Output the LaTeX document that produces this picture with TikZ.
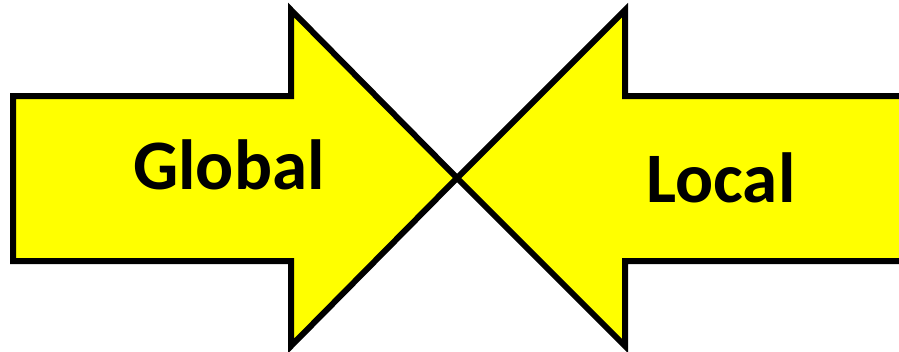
\documentclass[tikz,border=0pt]{standalone}
\usepackage{fontspec}
\setmainfont{Carlito}
\definecolor{arrowyellow}{RGB}{255,255,0}
\tikzset{
  arrowshape/.style={fill=arrowyellow, draw=black, line width=6pt, line join=miter, miter limit=20},
  arrowlabel/.style={font=\fontsize{71}{80}\selectfont\bfseries, anchor=base, inner sep=0pt}
}
\begin{document}
\begin{tikzpicture}[x=1pt,y=-1pt]
\useasboundingbox (0,0) rectangle (899,351);
\clip (0,0) rectangle (899,351);
% left arrow (Global)
\draw[arrowshape] (13,96) -- (291,96) -- (291,10) -- (457,178) -- (291,346) -- (291,261) -- (13,261) -- cycle;
% right arrow (Local)
\draw[arrowshape] (960,96) -- (625,96) -- (625,10) -- (457,178) -- (625,346) -- (625,261) -- (960,261) -- cycle;
\node[arrowlabel] (global) at (229,189) {Global};
\node[arrowlabel] (local) at (721,202) {Local};
\end{tikzpicture}
\end{document}
